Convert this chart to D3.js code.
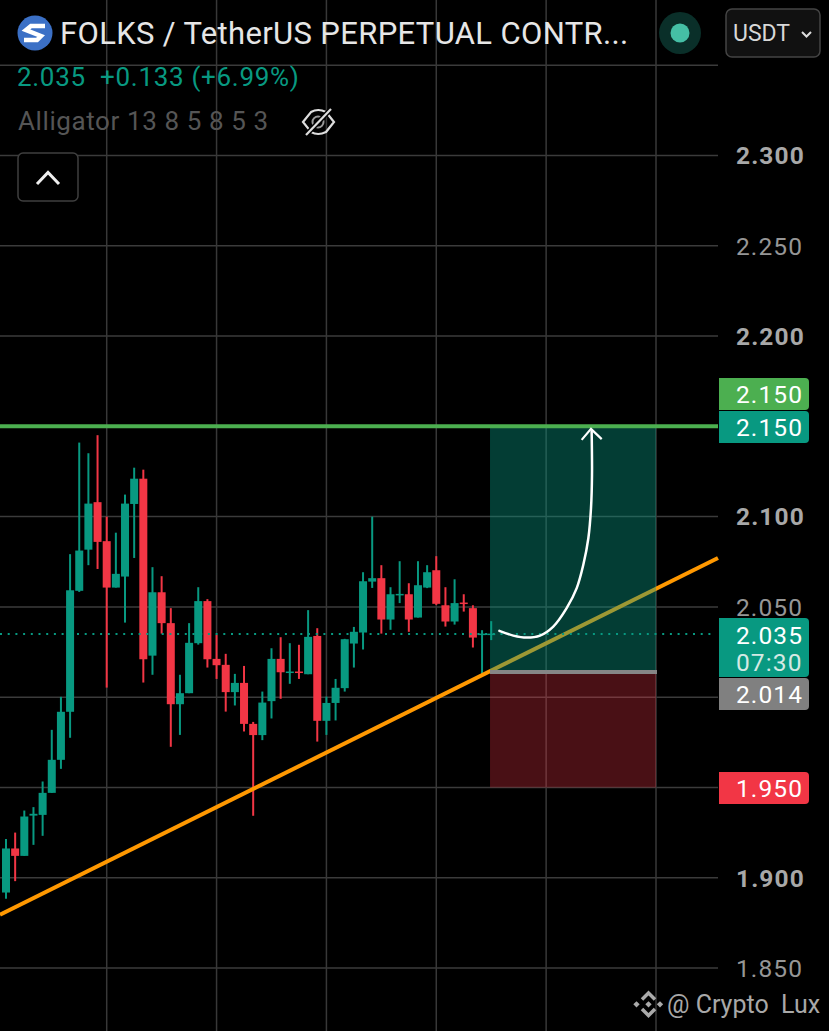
<!DOCTYPE html>
<html>
<head>
<meta charset="utf-8">
<title>FOLKS / TetherUS</title>
<script src="https://cdnjs.cloudflare.com/ajax/libs/d3/7.8.5/d3.min.js"></script>
<style>
  html, body { margin: 0; padding: 0; background: #000; overflow: hidden; }
  svg { display: block; }
  text { font-family: Roboto, "Liberation Sans", sans-serif; }
</style>
</head>
<body>
<script>
// candles, one entry per bar, left to right
var opens = [1.8918,1.9162,1.9121,1.9344,1.9348,1.9470,1.9653,1.9919,2.0589,2.0817,2.1080,2.0864,2.0607,2.0668,2.1070,2.1210,2.0230,2.0581,2.0410,1.9961,2.0022,2.0299,2.0532,2.0212,2.0179,2.0028,2.0079,1.9852,1.9790,1.9978,2.0212,2.0136,2.0142,2.0127,2.0339,1.9869,1.9968,2.0050,2.0297,2.0358,2.0640,2.0659,2.0430,2.0566,2.0570,2.0441,2.0607,2.0703,2.0509,2.0419,2.0524,2.0493,2.0347,2.0347];
var highs = [1.9215,1.9250,1.9372,1.9391,1.9533,1.9819,2.0002,2.0792,2.1410,2.1351,2.1451,2.1000,2.0911,2.1122,2.1271,2.1260,2.0720,2.0670,2.0493,2.0124,2.0410,2.0609,2.0543,2.0345,2.0240,2.0129,2.0173,1.9863,2.0031,2.0271,2.0332,2.0299,2.0290,2.0482,2.0382,2.0003,2.0101,2.0323,2.0389,2.0692,2.1000,2.0731,2.0609,2.0753,2.0631,2.0753,2.0731,2.0781,2.0609,2.0653,2.0570,2.0509,2.0371,2.0421];
var lows = [1.8883,1.8981,1.9121,1.9182,1.9232,1.9470,1.9603,1.9775,2.0583,2.0731,2.0710,2.0053,2.0607,2.0413,2.0771,2.0081,2.0124,2.0352,1.9725,1.9791,2.0022,2.0291,2.0164,2.0101,1.9920,1.9954,1.9810,1.9343,1.9762,1.9882,1.9991,2.0074,2.0101,2.0127,1.9754,1.9791,1.9871,2.0031,2.0164,2.0264,2.0605,2.0352,2.0373,2.0521,2.0362,2.0441,2.0604,2.0511,2.0391,2.0402,2.0474,2.0275,2.0127,2.0316];
var closes = [1.9162,1.9121,1.9339,1.9354,1.9470,1.9653,1.9919,2.0592,2.0812,2.1072,2.0860,2.0607,2.0683,2.1072,2.1210,2.0210,2.0581,2.0410,1.9961,2.0022,2.0301,2.0532,2.0210,2.0177,2.0028,2.0079,1.9852,1.9790,1.9970,2.0212,2.0138,2.0142,2.0136,2.0334,1.9869,1.9968,2.0052,2.0321,2.0362,2.0642,2.0659,2.0430,2.0570,2.0572,2.0430,2.0620,2.0692,2.0517,2.0419,2.0521,2.0517,2.0330,2.0352,2.0352];

var gridPrices = [1.85,1.90,1.95,2.00,2.05,2.10,2.15,2.20,2.25,2.30,2.35];
var gridBars = [11,23,35,47,59,71];
var axisPrices = [1.85,1.90,2.05,2.10,2.20,2.25,2.30];
var boldPrices = [1.90,2.10,2.20,2.30];

var lastPrice = 2.035;
var targetPrice = 2.150;
var entryPrice = 2.014;
var stopPrice = 1.950;
var boxBars = [52.87,71];
var trendBars = [-0.655,77.77];
var trendPrices = [1.8795,2.0771];
var arrowBars = [53.89,55.41,56.88,58.33,59.78,61.24,62.34,63.06,63.61,63.90,64.01,63.97];
var arrowPrices = [2.0367,2.0341,2.0330,2.0341,2.0391,2.0493,2.0604,2.0733,2.0880,2.1047,2.1231,2.1471];
var headBars = [62.88,63.90,65.07];
var headPrices = [2.1425,2.1486,2.1429];

var WIDTH = 829, HEIGHT = 1031, PLOT_RIGHT = 718;
var GREEN = '#089981', RED = '#f23645';

var svg = d3.select('body').append('svg').attr('width', WIDTH).attr('height', HEIGHT);

var x = d3.scaleLinear().domain([0, 71]).range([6, 656]);
var y = d3.scaleLinear().domain([1.85, 2.30]).range([968, 155.5]);
var fmt = d3.format('.3f');

// grid
svg.selectAll('.hgrid').data(gridPrices).enter().append('line')
  .attr('x1', 0).attr('x2', PLOT_RIGHT)
  .attr('y1', function(d) { return y(d); }).attr('y2', function(d) { return y(d); })
  .attr('stroke', '#3b3b3b').attr('stroke-width', 1.5);
svg.selectAll('.vgrid').data(gridBars).enter().append('line')
  .attr('y1', 0).attr('y2', HEIGHT)
  .attr('x1', function(d) { return x(d); }).attr('x2', function(d) { return x(d); })
  .attr('stroke', '#383838').attr('stroke-width', 1.5);

// candles
var bars = d3.range(opens.length);
function barColor(i) { return closes[i] >= opens[i] ? GREEN : RED; }
svg.selectAll('.wick').data(bars).enter().append('line')
  .attr('x1', function(i) { return x(i); }).attr('x2', function(i) { return x(i); })
  .attr('y1', function(i) { return y(highs[i]); }).attr('y2', function(i) { return y(lows[i]); })
  .attr('stroke', barColor).attr('stroke-width', 2);
svg.selectAll('.body').data(bars).enter().append('rect')
  .attr('x', function(i) { return x(i) - 4; })
  .attr('width', 8)
  .attr('y', function(i) { return y(Math.max(opens[i], closes[i])); })
  .attr('height', function(i) { return Math.max(1.5, Math.abs(y(opens[i]) - y(closes[i]))); })
  .attr('fill', barColor);

// trend line and last price line, the position boxes sit on top of them
svg.append('line')
  .attr('x1', x(trendBars[0])).attr('y1', y(trendPrices[0]))
  .attr('x2', x(trendBars[1])).attr('y2', y(trendPrices[1]))
  .attr('stroke', '#ff9800').attr('stroke-width', 4);
svg.append('line')
  .attr('x1', 0).attr('x2', 712).attr('y1', y(lastPrice)).attr('y2', y(lastPrice))
  .attr('stroke', GREEN).attr('stroke-width', 2).attr('stroke-dasharray', '2 5.7');

svg.append('rect')
  .attr('x', x(boxBars[0])).attr('width', x(boxBars[1]) - x(boxBars[0]))
  .attr('y', y(targetPrice)).attr('height', y(entryPrice) - y(targetPrice))
  .attr('fill', GREEN).attr('fill-opacity', 0.4);
svg.append('rect')
  .attr('x', x(boxBars[0])).attr('width', x(boxBars[1]) - x(boxBars[0]))
  .attr('y', y(entryPrice)).attr('height', y(stopPrice) - y(entryPrice))
  .attr('fill', RED).attr('fill-opacity', 0.3);
svg.append('line')
  .attr('x1', 0).attr('x2', PLOT_RIGHT).attr('y1', y(targetPrice)).attr('y2', y(targetPrice))
  .attr('stroke', '#4caf50').attr('stroke-width', 4);
svg.append('line')
  .attr('x1', x(boxBars[0])).attr('x2', x(boxBars[1]) + 1).attr('y1', y(entryPrice)).attr('y2', y(entryPrice))
  .attr('stroke', '#868686').attr('stroke-width', 4);

// hand drawn arrow
var arrowLine = d3.line().curve(d3.curveCatmullRom)
  .x(function(d) { return x(arrowBars[d]); })
  .y(function(d) { return y(arrowPrices[d]); });
svg.append('path').attr('d', arrowLine(d3.range(arrowBars.length)))
  .attr('fill', 'none').attr('stroke', '#fff').attr('stroke-width', 2.5).attr('stroke-linecap', 'round');
var headLine = d3.line()
  .x(function(d) { return x(headBars[d]); })
  .y(function(d) { return y(headPrices[d]); });
svg.append('path').attr('d', headLine(d3.range(headBars.length)))
  .attr('fill', 'none').attr('stroke', '#fff').attr('stroke-width', 2.2);

// price axis
var axis = svg.append('g')
  .attr('transform', 'translate(736,0.5)')
  .call(d3.axisRight(y).tickValues(axisPrices).tickFormat(fmt).tickSize(0).tickPadding(0));
axis.select('.domain').remove();
axis.selectAll('text')
  .attr('font-size', 24.5)
  .attr('letter-spacing', 1.1)
  .attr('font-weight', function(d) { return boldPrices.indexOf(d) >= 0 ? 700 : 400; })
  .attr('fill', function(d) { return boldPrices.indexOf(d) >= 0 ? '#a8a8a8' : '#969696'; });

// price tags
function tag(top, h, color) {
  var l = 719, r = 809, c = 4;
  svg.append('path')
    .attr('d', 'M' + l + ' ' + top + 'H' + (r - c) + 'Q' + r + ' ' + top + ' ' + r + ' ' + (top + c) +
      'V' + (top + h - c) + 'Q' + r + ' ' + (top + h) + ' ' + (r - c) + ' ' + (top + h) + 'H' + l + 'Z')
    .attr('fill', color);
}
function tagText(str, cy, color) {
  svg.append('text').attr('x', 736).attr('y', cy).attr('dy', '0.35em')
    .attr('font-size', 24.5).attr('letter-spacing', 1.1).attr('fill', color).text(str);
}
tag(378, 32, '#4caf50');
tagText(fmt(targetPrice), 394.5, '#fff');
tag(411, 32, GREEN);
tagText(fmt(targetPrice), 427.5, '#fff');
tag(618, 59, GREEN);
tagText(fmt(lastPrice), 635, '#fff');
tagText('07:30', 662, '#d4e9e4');
tag(678, 32, '#808080');
tagText(fmt(entryPrice), 694.5, '#fff');
tag(772, 32, RED);
tagText(fmt(stopPrice), 788.5, '#fff');

// header
svg.append('circle').attr('cx', 35).attr('cy', 33).attr('r', 17.5).attr('fill', '#3b70c6');
svg.append('path').attr('d', 'M45 26H31L26 30L41 36L37 40H24')
  .attr('fill', 'none').attr('stroke', '#fff').attr('stroke-width', 4.5);
svg.append('text').attr('x', 60).attr('y', 44).attr('font-size', 31).attr('letter-spacing', 0.35).attr('fill', '#e6e6e6')
  .text('FOLKS / TetherUS PERPETUAL CONTR...');
svg.append('circle').attr('cx', 680).attr('cy', 33).attr('r', 21).attr('fill', '#0a2f29');
svg.append('circle').attr('cx', 680).attr('cy', 33).attr('r', 9.5).attr('fill', '#45bfa5');
svg.append('rect').attr('x', 726).attr('y', 9).attr('width', 94).attr('height', 48).attr('rx', 6)
  .attr('fill', '#111').attr('stroke', '#444').attr('stroke-width', 1.5);
svg.append('text').attr('x', 733).attr('y', 41).attr('font-size', 23).attr('fill', '#d8d8d8').text('USDT');
svg.append('path').attr('d', 'M802 32L806.5 36.5L811 32')
  .attr('fill', 'none').attr('stroke', '#ddd').attr('stroke-width', 2);

svg.append('text').attr('x', 17).attr('y', 86).attr('font-size', 26).attr('letter-spacing', 0.7).attr('fill', GREEN)
  .style('white-space', 'pre').text('2.035  +0.133 (+6.99%)');
svg.append('text').attr('x', 18).attr('y', 130).attr('font-size', 26).attr('letter-spacing', 0.6).attr('fill', '#555')
  .text('Alligator 13 8 5 8 5 3');

// hidden eye icon
svg.append('path').attr('d', 'M303 122L311 112Q318 108 326 112L334 122L326 132Q318 136 311 132Z')
  .attr('fill', 'none').attr('stroke', '#ddd').attr('stroke-width', 2.2);
svg.append('circle').attr('cx', 318).attr('cy', 122).attr('r', 5.5)
  .attr('fill', 'none').attr('stroke', '#999').attr('stroke-width', 2);
svg.append('line').attr('x1', 306).attr('y1', 135).attr('x2', 331).attr('y2', 109)
  .attr('stroke', '#000').attr('stroke-width', 5);
svg.append('line').attr('x1', 306).attr('y1', 135).attr('x2', 331).attr('y2', 109)
  .attr('stroke', '#ddd').attr('stroke-width', 2.2);

// collapse button
svg.append('rect').attr('x', 18).attr('y', 153).attr('width', 60).attr('height', 48).attr('rx', 5)
  .attr('fill', '#000').attr('stroke', '#3f3f3f').attr('stroke-width', 1.5);
svg.append('path').attr('d', 'M37 184L48 172.5L59 184')
  .attr('fill', 'none').attr('stroke', '#eee').attr('stroke-width', 3);

// watermark
svg.append('path').attr('d', 'M642 999.5L648.5 993L655 999.5M642 1009L648.5 1015.5L655 1009')
  .attr('fill', 'none').attr('stroke', '#aaa').attr('stroke-width', 3.5);
[[636.5, 1004.3], [648.5, 1004.3], [660, 1004.3]].forEach(function(p) {
  svg.append('path').attr('d', d3.symbol(d3.symbolSquare, 20)())
    .attr('transform', 'translate(' + p[0] + ',' + p[1] + ') rotate(45)').attr('fill', '#aaa');
});
svg.append('text').attr('x', 667).attr('y', 1013).attr('font-size', 25).attr('fill', '#a8a8a8')
  .style('white-space', 'pre').text('@ Crypto  Lux');
</script>
</body>
</html>
